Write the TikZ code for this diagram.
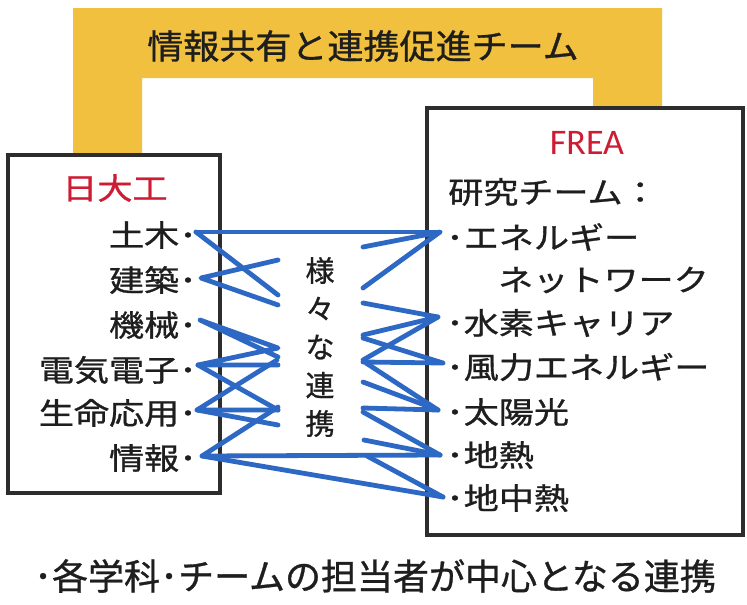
\documentclass[tikz,border=0pt]{standalone}
\usepackage{fontspec}
\usepackage{graphicx}
\newfontfamily\jpfont[FakeBold=0.9]{Noto Sans CJK JP}
\newfontfamily\latfont{Carlito}
\definecolor{bandyellow}{RGB}{240,192,62}
\definecolor{linkblue}{RGB}{44,104,196}
\definecolor{headred}{RGB}{206,28,52}
\definecolor{txtgray}{RGB}{30,30,30}
\definecolor{boxgray}{RGB}{45,45,45}
\newcommand{\hsx}[1]{\scalebox{1.17}[1]{#1}}
\begin{document}
\begin{tikzpicture}[x=1pt,y=-1pt,
  boxframe/.style={draw=boxgray,line width=3.2pt,minimum width=#1,inner sep=0pt},
  item/.style={font=\jpfont\fontsize{30}{36}\selectfont,text=txtgray,inner sep=0pt},
  head/.style={font=\jpfont\fontsize{30}{36}\selectfont,text=headred,inner sep=0pt},
  link/.style={draw=linkblue,line width=4.8pt,line cap=round,line join=round}]
\useasboundingbox (0,0) rectangle (747,605);
\fill[white] (0,0) rectangle (747,605);
% yellow band
\fill[bandyellow] (73,8) -- (662,8) -- (662,108) -- (593,108) -- (593,78)
  -- (142,78) -- (142,155) -- (73,155) -- cycle;
\node[font=\jpfont\fontsize{34}{40}\selectfont,text=txtgray,inner sep=0pt] (title) at (363,46)
  {\scalebox{1.06}[1]{情報共有と連携促進チーム}};
% boxes
\node[boxframe=212pt,minimum height=338pt] (nubox) at (114,324) {};
\node[boxframe=316pt,minimum height=427pt] (freabox) at (585,321.5) {};
% left texts
\node[head] (nu) at (115,188) {\hsx{日大工}};
\node[item,anchor=east] (l1) at (197,235) {\hsx{土木･}};
\node[item,anchor=east] (l2) at (197,280) {\hsx{建築･}};
\node[item,anchor=east] (l3) at (197,325) {\hsx{機械･}};
\node[item,anchor=east] (l4) at (197,370) {\hsx{電気電子･}};
\node[item,anchor=east] (l5) at (197,413) {\hsx{生命応用･}};
\node[item,anchor=east] (l6) at (197,458) {\hsx{情報･}};
% right texts
\node[font=\latfont\fontsize{36}{40}\selectfont,text=headred,inner sep=0pt] (frea) at (587,143) {FREA};
\node[item,anchor=west] (rt) at (448,192) {\hsx{研究チーム：}};
\node[item,anchor=west] (r1) at (446,237) {\hsx{･エネルギー}};
\node[item,anchor=west] (r2) at (498,280) {\hsx{ネットワーク}};
\node[item,anchor=west] (r3) at (446,323) {\hsx{･水素キャリア}};
\node[item,anchor=west] (r4) at (446,367) {\hsx{･風力エネルギー}};
\node[item,anchor=west] (r5) at (446,412) {\hsx{･太陽光}};
\node[item,anchor=west] (r6) at (446,455) {\hsx{･地熱}};
\node[item,anchor=west] (r7) at (446,498) {\hsx{･地中熱}};
% middle vertical text
\node[font=\jpfont\fontsize{29}{38.25}\selectfont,text=txtgray,align=center,inner sep=0pt] (mid) at (320,347)
  {様\\々\\な\\連\\携};
% footer
\node[font=\jpfont\fontsize{36}{40}\selectfont,text=txtgray,inner sep=0pt] (foot) at (375,576)
  {･各学科･チームの担当者が中心となる連携};
% connector end points
\coordinate (L1) at (196,232);
\coordinate (L2) at (201,278);
\coordinate (L3) at (200,320);
\coordinate (L4) at (198,365);
\coordinate (L5) at (197,410);
\coordinate (L6) at (202,456);
\coordinate (R1) at (440,232);
\coordinate (R3) at (438,317);
\coordinate (R4) at (443,363);
\coordinate (R5) at (438,410);
\coordinate (R6) at (440,455);
\coordinate (R7) at (443,497);
% left inner turning points
\coordinate (a1) at (278,295);
\coordinate (a2) at (278,260);
\coordinate (a3) at (278,305);
\coordinate (a4) at (278,357);
\coordinate (a5) at (278,348);
\coordinate (a6) at (278,365);
\coordinate (a7) at (278,410);
\coordinate (a8) at (277,360);
\coordinate (a9) at (278,425);
\coordinate (a10) at (278,407);
% right inner turning points
\coordinate (b1) at (363,247);
\coordinate (b2) at (363,288);
\coordinate (b3) at (363,303);
\coordinate (b4) at (363,335);
\coordinate (b5) at (363,360);
\coordinate (b6) at (363,338);
\coordinate (b7) at (363,362);
\coordinate (b8) at (366,363);
\coordinate (b9) at (363,382);
\coordinate (b10) at (363,408);
\coordinate (b11) at (363,412);
\coordinate (b12) at (364,440);
\coordinate (b13) at (367,456);
% blue links, left part
\draw[link] (L1) -- (R1);
\draw[link] (L1) -- (a1);
\draw[link] (a2) -- (L2) -- (a3);
\draw[link] (a4) -- (L3) -- (a5) -- (L4) -- (a6);
\draw[link] (L4) -- (a7);
\draw[link] (a8) -- (L5) -- (a7);
\draw[link] (L5) -- (a9);
\draw[link] (a10) -- (L6) -- (R6);
\draw[link] (L6) -- (R7);
% blue links, right part
\draw[link] (b1) -- (R1) -- (b2);
\draw[link] (b3) -- (R3) -- (b4);
\draw[link] (R3) -- (b5);
\draw[link] (b6) -- (R4) -- (b7);
\draw[link] (b8) -- (R5);
\draw[link] (b9) -- (R5) -- (b10);
\draw[link] (b11) -- (R6);
\draw[link] (b12) -- (R6);
\draw[link] (b13) -- (R7);
\end{tikzpicture}
\end{document}
